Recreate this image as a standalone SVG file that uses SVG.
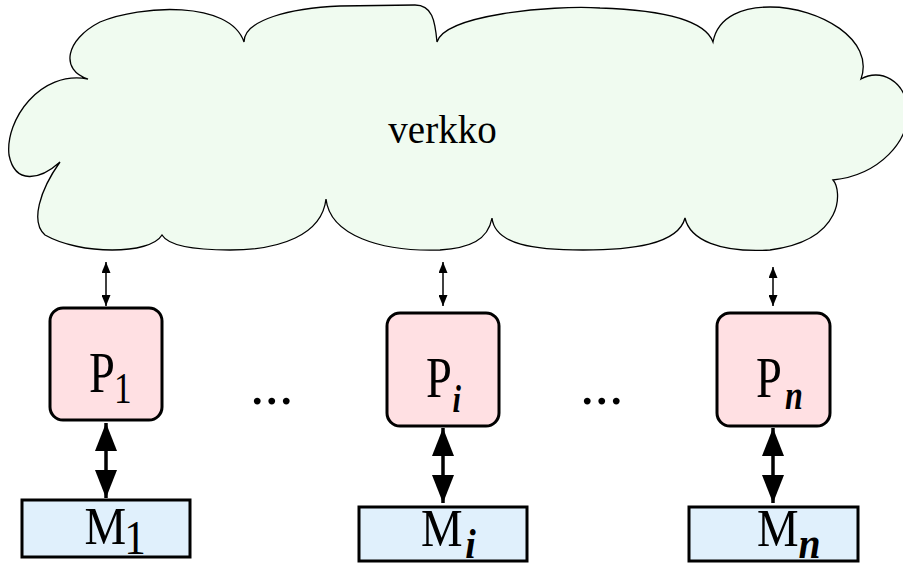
<svg xmlns="http://www.w3.org/2000/svg" width="903" height="563" viewBox="0 0 903 563">
  <style>
    .cloud { fill: #f0fbf0; stroke: #000; stroke-width: 1.3; }
    .proc { fill: #ffe0e3; stroke: #000; stroke-width: 3; }
    .mem { fill: #e0f0fc; stroke: #000; stroke-width: 3; }
    text { font-family: "Liberation Serif", "Times New Roman", serif; fill: #000; }
    .sub { font-style: italic; font-weight: bold; }
    .thin { stroke: #000; stroke-width: 1.5; fill: none; marker-start: url(#headSmall); marker-end: url(#headSmall); }
    .thick { stroke: #000; stroke-width: 3.5; fill: none; marker-start: url(#headBig); marker-end: url(#headBig); }
  </style>
  <defs>
    <marker id="headSmall" markerUnits="userSpaceOnUse" markerWidth="11" markerHeight="9" refX="11" refY="4.5" orient="auto-start-reverse">
      <path d="M0,0 L11,4.5 L0,9 z" fill="#000"/>
    </marker>
    <marker id="headBig" markerUnits="userSpaceOnUse" markerWidth="28" markerHeight="22" refX="28" refY="11" orient="auto-start-reverse">
      <path d="M0,0 L28,11 L0,22 z" fill="#000"/>
    </marker>
  </defs>

  <!-- network cloud -->
  <g id="verkko">
    <path class="cloud" d="M88,79
      C60,70 65,40 100,22 C140,5 230,0 244,42
      C244,20 290,8 340,6 L415,5 C432,5 435,20 437,42
      C445,15 550,5 600,8 C660,10 705,20 713,42
      C718,15 745,7 770,7 C820,7 875,40 861,79
      C880,68 905,80 908,110 C910,140 880,175 833,180
      C842,190 845,240 770,250 C720,253 690,240 685,218
      C678,245 630,250 583,250 C535,250 495,245 492,218
      C488,240 470,248 440,250 C380,252 330,235 326,199
      C322,235 280,250 230,250 C190,250 168,245 162,235
      C150,255 80,255 45,235 C30,222 40,190 60,162
      C40,180 15,185 9,155 C5,120 40,70 88,79 Z"/>
    <text x="442.5" y="143" font-size="39" text-anchor="middle">verkko</text>
  </g>

  <!-- connectors -->
  <g id="connectors">
    <line class="thin" x1="106" y1="262" x2="106" y2="306"/>
    <line class="thin" x1="443" y1="262" x2="443" y2="306"/>
    <line class="thin" x1="773" y1="267" x2="773" y2="306"/>
    <line class="thick" x1="106" y1="423" x2="106" y2="498"/>
    <line class="thick" x1="443" y1="428" x2="443" y2="503"/>
    <line class="thick" x1="773" y1="428" x2="773" y2="503"/>
  </g>

  <!-- processors -->
  <g id="p1">
    <rect class="proc" x="50" y="308" width="112" height="112" rx="13"/>
    <text transform="translate(89 392) scale(0.8 1)" font-size="58">P<tspan font-size="44" dx="-1" dy="11">1</tspan></text>
  </g>
  <g id="pi">
    <rect class="proc" x="387" y="313" width="112" height="113" rx="13"/>
    <text transform="translate(426 397) scale(0.8 1)" font-size="58">P<tspan class="sub" font-size="38" dx="1" dy="15">i</tspan></text>
  </g>
  <g id="pn">
    <rect class="proc" x="717" y="313" width="113" height="113" rx="13"/>
    <text transform="translate(756 397) scale(0.8 1)" font-size="58">P<tspan class="sub" font-size="40" dx="4" dy="12">n</tspan></text>
  </g>

  <!-- ellipses between processors -->
  <g id="dots1">
    <text x="250" y="404" font-size="58">...</text>
  </g>
  <g id="dots2">
    <text x="580" y="404" font-size="58">...</text>
  </g>

  <!-- memories -->
  <g id="m1">
    <rect class="mem" x="22" y="500" width="168" height="57"/>
    <text transform="translate(84.4 544) scale(0.9 1)" font-size="52">M<tspan font-size="48" dx="-2" dy="10">1</tspan></text>
  </g>
  <g id="mi">
    <rect class="mem" x="359" y="507" width="168" height="54"/>
    <text transform="translate(421 546) scale(0.9 1)" font-size="52">M<tspan class="sub" font-size="42" dx="3" dy="12">i</tspan></text>
  </g>
  <g id="mn">
    <rect class="mem" x="689" y="507" width="169" height="54"/>
    <text transform="translate(757 546) scale(0.9 1)" font-size="52">M<tspan class="sub" font-size="44" dy="12">n</tspan></text>
  </g>
</svg>
